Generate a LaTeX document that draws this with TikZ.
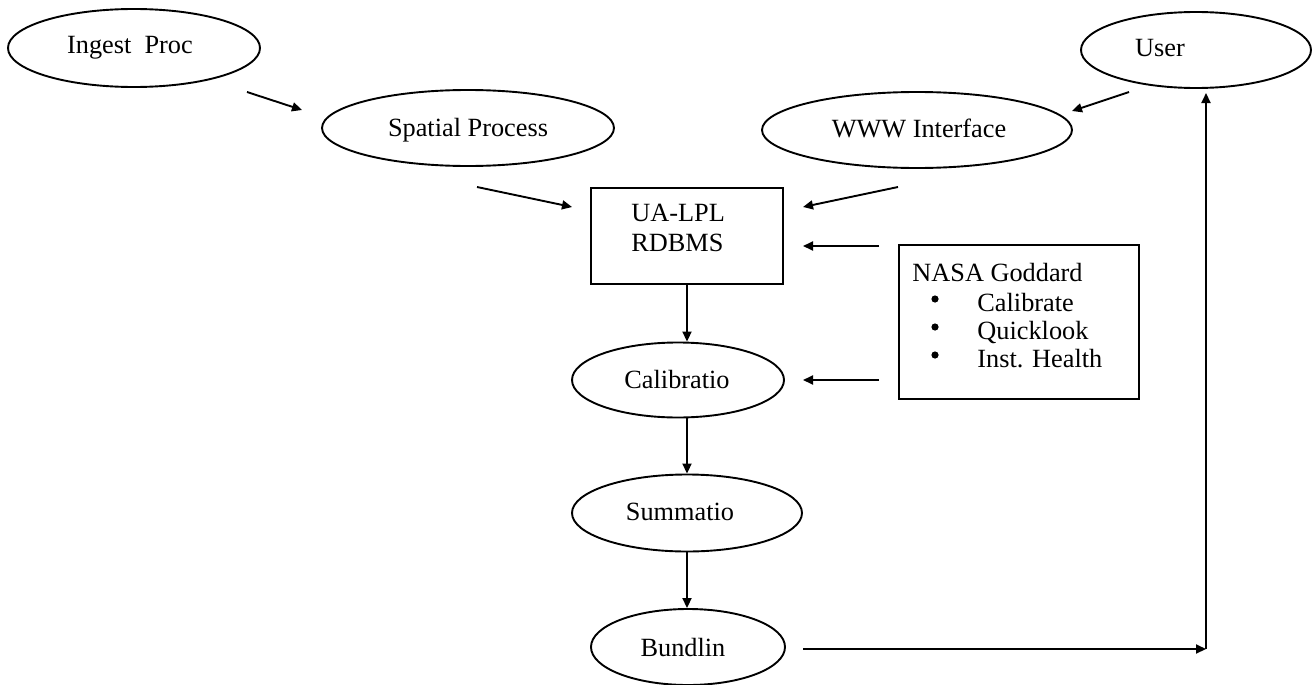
\documentclass[tikz,border=0pt]{standalone}
\usepackage{fontspec}
\setmainfont{Liberation Serif}
\usetikzlibrary{shapes.geometric,arrows.meta}
\begin{document}
\begin{tikzpicture}[x=0.5pt,y=-0.5pt,
  every node/.style={font=\fontsize{13.15}{15}\selectfont},
  proc/.style={draw,ellipse,line width=0.95pt,inner sep=0pt},
  box/.style={draw,rectangle,line width=0.95pt,inner sep=0pt},
  txt/.style={inner sep=0pt,align=left},
  bul/.style={fill=black},
  arr/.style={line width=0.95pt,-{Triangle[length=5pt,width=4.5pt]}}]
\useasboundingbox (0,0) rectangle (1312,685);
% ellipses
\node[proc,minimum width=126pt,minimum height=39pt] (ingest) at (134,48) {};
\node[txt] (ingestT) at (130,48) {Ingest\ \ Proc};
\node[proc,minimum width=146pt,minimum height=38pt] (spatial) at (468,128) {};
\node[txt] (spatialT) at (468,130) {Spatial Process};
\node[proc,minimum width=155pt,minimum height=38pt] (www) at (917,130) {};
\node[txt] (wwwT) at (919,128) {WWW Interface};
\node[proc,minimum width=115pt,minimum height=38pt] (user) at (1196,50) {};
\node[txt] (userT) at (1160,48) {User};
\node[proc,minimum width=106pt,minimum height=37.5pt] (calib) at (678,380) {};
\node[txt] (calibT) at (677,379) {Calibratio};
\node[proc,minimum width=115pt,minimum height=38.5pt] (summ) at (687,513) {};
\node[txt] (summT) at (680,512) {Summatio};
\node[proc,minimum width=97pt,minimum height=38pt] (bund) at (688,647) {};
\node[txt] (bundT) at (683,647) {Bundlin};
% boxes
\node[box,minimum width=96pt,minimum height=48pt] (rdbms) at (687,236) {};
\node[txt,anchor=north west] (rdbmsT) at (631,204) {UA-LPL\\RDBMS};
\node[box,minimum width=120pt,minimum height=77pt] (nasa) at (1019,322) {};
\node[txt,anchor=north west,font=\fontsize{13.15}{14}\selectfont] (nasaT) at (912,263)
  {NASA Goddard\\[1pt]
  \hspace*{32.5pt}Calibrate\\
  \hspace*{32.5pt}Quicklook\\
  \hspace*{32.5pt}Inst. Health};
\fill[bul] (935,299) circle[radius=1.8pt];
\fill[bul] (935,327) circle[radius=1.8pt];
\fill[bul] (935,355) circle[radius=1.8pt];
% connector end points
\coordinate (a1s) at (247,92);   \coordinate (a1e) at (302,110);
\coordinate (a2s) at (477,187);  \coordinate (a2e) at (572,207);
\coordinate (a3s) at (898,187);  \coordinate (a3e) at (803,207);
\coordinate (a4s) at (879,246);  \coordinate (a4e) at (803,246);
\coordinate (a5s) at (879,380);  \coordinate (a5e) at (803,380);
\coordinate (a6s) at (1129,92);  \coordinate (a6e) at (1072,111);
\coordinate (a10s) at (803,649); \coordinate (corner) at (1206,649);
\coordinate (a11e) at (1206,93);
% connectors
\draw[arr] (a1s) -- (a1e);
\draw[arr] (a2s) -- (a2e);
\draw[arr] (a3s) -- (a3e);
\draw[arr] (a4s) -- (a4e);
\draw[arr] (a5s) -- (a5e);
\draw[arr] (a6s) -- (a6e);
\draw[arr] (rdbms.south) -- (calib.north -| rdbms.south);
\draw[arr] (calib.south -| rdbms.south) -- (summ.north -| rdbms.south);
\draw[arr] (summ.south -| rdbms.south) -- (bund.north -| rdbms.south);
\draw[arr] (a10s) -- (corner);
\draw[arr] (corner) -- (a11e);
\end{tikzpicture}
\end{document}
